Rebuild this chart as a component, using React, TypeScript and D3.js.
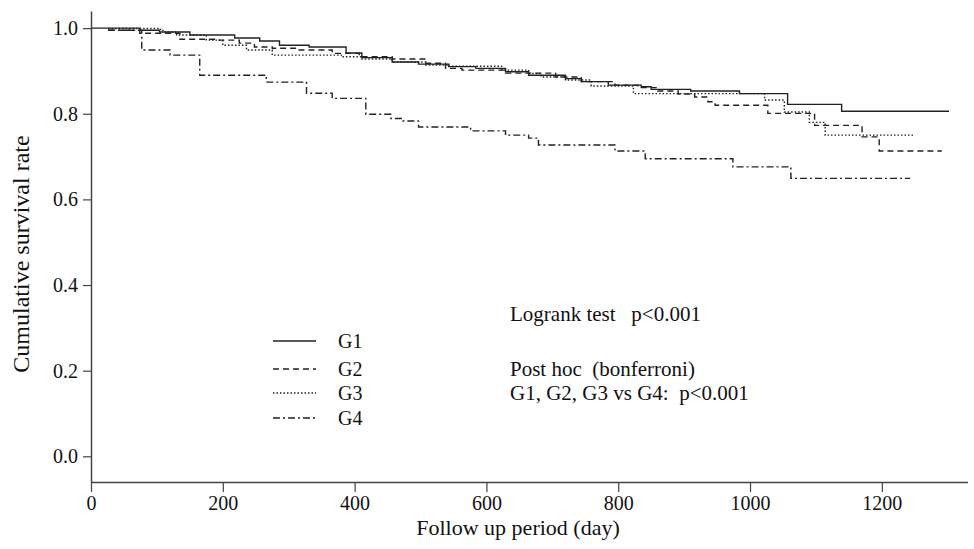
import React, { useEffect, useRef } from "react";
import * as d3 from "d3";

// Kaplan-Meier curves, four groups (day, survival after the step)

const g1Days = [0, 74, 104, 150, 218, 256, 286, 331, 387, 411, 457, 497, 543, 584, 629, 664, 720, 744, 785, 835, 850, 910, 984, 1057, 1139, 1302];
const g1Surv = [1.0, 0.995, 0.991, 0.984, 0.977, 0.97, 0.96, 0.956, 0.942, 0.931, 0.921, 0.916, 0.91, 0.906, 0.898, 0.89, 0.882, 0.875, 0.867, 0.863, 0.857, 0.853, 0.847, 0.822, 0.806, 0.806];

const g2Days = [26, 74, 135, 190, 225, 248, 275, 316, 366, 407, 457, 508, 538, 563, 629, 705, 744, 795, 830, 860, 891, 916, 936, 947, 1027, 1098, 1170, 1196, 1291];
const g2Surv = [0.995, 0.988, 0.974, 0.972, 0.965, 0.956, 0.953, 0.949, 0.941, 0.933, 0.928, 0.918, 0.906, 0.902, 0.895, 0.886, 0.875, 0.867, 0.861, 0.853, 0.846, 0.839, 0.828, 0.82, 0.801, 0.773, 0.746, 0.713, 0.713];

const g3Days = [26, 104, 109, 130, 175, 200, 236, 275, 381, 411, 457, 508, 543, 623, 664, 683, 720, 759, 823, 1022, 1052, 1090, 1114, 1249];
const g3Surv = [0.999, 0.997, 0.991, 0.984, 0.972, 0.96, 0.949, 0.937, 0.933, 0.928, 0.921, 0.914, 0.911, 0.902, 0.894, 0.886, 0.879, 0.865, 0.847, 0.832, 0.804, 0.78, 0.75, 0.75];

const g4Days = [26, 77, 120, 165, 266, 327, 366, 417, 455, 472, 497, 576, 629, 664, 679, 795, 841, 974, 1062, 1243];
const g4Surv = [0.995, 0.949, 0.937, 0.89, 0.874, 0.848, 0.836, 0.799, 0.789, 0.783, 0.769, 0.76, 0.75, 0.743, 0.727, 0.713, 0.695, 0.676, 0.649, 0.649];

const groupNames = ["G1", "G2", "G3", "G4"];
const xTicks = [0, 200, 400, 600, 800, 1000, 1200];
const yTicks = [0.0, 0.2, 0.4, 0.6, 0.8, 1.0];
const annotations = ["Logrank test   p<0.001", "Post hoc  (bonferroni)", "G1, G2, G3 vs G4:  p<0.001"];

const dashes = [null, "6,4", "1.5,2", "7,3,2,3"];
const FONT = "'Liberation Serif', 'Times New Roman', serif";

export default function App() {
    const svgRef = useRef<SVGSVGElement | null>(null);

    useEffect(() => {
        const svg = d3.select(svgRef.current);
        svg.selectAll("*").remove();

        const x = d3.scaleLinear().domain([0, 1330]).range([91, 967.5]);
        const y = d3.scaleLinear().domain([-0.06, 1.04]).range([482, 11]);

        const series = [
            d3.zip(g1Days, g1Surv),
            d3.zip(g2Days, g2Surv),
            d3.zip(g3Days, g3Surv),
            d3.zip(g4Days, g4Surv),
        ];

        const line = d3
            .line<number[]>()
            .x((d) => x(d[0]))
            .y((d) => y(d[1]))
            .curve(d3.curveStepAfter);

        series.forEach((s, i) => {
            svg.append("path")
                .datum(s)
                .attr("fill", "none")
                .attr("stroke", "#222")
                .attr("stroke-width", 1.4)
                .attr("stroke-dasharray", dashes[i])
                .attr("d", line);
        });

        // axes
        const yAxis = d3.axisLeft(y).tickValues(yTicks).tickSize(8).tickSizeOuter(0).tickFormat(d3.format(".1f"));
        const yg = svg.append("g").attr("transform", `translate(${x(0)},0)`).call(yAxis);

        const xAxis = d3.axisBottom(x).tickValues(xTicks).tickSize(10).tickSizeOuter(0).tickFormat(d3.format("d"));
        const xg = svg.append("g").attr("transform", `translate(0,${y(-0.06)})`).call(xAxis);

        [yg, xg].forEach((g) => {
            g.select(".domain").attr("stroke", "#444").attr("stroke-width", 1.5);
            g.selectAll(".tick line").attr("stroke", "#444").attr("stroke-width", 1.2);
            g.selectAll(".tick text").attr("font-family", FONT).attr("font-size", 20).attr("fill", "#111");
        });
        yg.selectAll(".tick text").attr("x", -13);
        xg.selectAll(".tick text").attr("y", 14);

        svg.append("text")
            .attr("x", 518)
            .attr("y", 535)
            .attr("text-anchor", "middle")
            .attr("font-family", FONT)
            .attr("font-size", 22)
            .attr("fill", "#111")
            .text("Follow up period (day)");

        svg.append("text")
            .attr("transform", `translate(29,254) rotate(-90)`)
            .attr("text-anchor", "middle")
            .attr("font-family", FONT)
            .attr("font-size", 24)
            .attr("fill", "#111")
            .text("Cumulative survival rate");

        // legend
        const legendY = [341, 369, 393, 418];
        groupNames.forEach((name, i) => {
            svg.append("line")
                .attr("x1", 273)
                .attr("x2", 316)
                .attr("y1", legendY[i])
                .attr("y2", legendY[i])
                .attr("stroke", "#222")
                .attr("stroke-width", 1.4)
                .attr("stroke-dasharray", dashes[i]);
            svg.append("text")
                .attr("x", 338)
                .attr("y", legendY[i])
                .attr("dy", "0.35em")
                .attr("font-family", FONT)
                .attr("font-size", 20)
                .attr("fill", "#111")
                .text(name);
        });

        const noteY = [314, 369, 393];
        annotations.forEach((t, i) => {
            svg.append("text")
                .attr("x", 510)
                .attr("y", noteY[i])
                .attr("dy", "0.35em")
                .attr("font-family", FONT)
                .attr("font-size", 21)
                .attr("fill", "#111")
                .attr("xml:space", "preserve")
                .style("white-space", "pre")
                .text(t);
        });
    }, []);

    return (
        <svg
            ref={svgRef}
            width={974}
            height={549}
            style={{ position: "absolute", left: 0, top: 0, background: "#fff" }}
        />
    );
}
